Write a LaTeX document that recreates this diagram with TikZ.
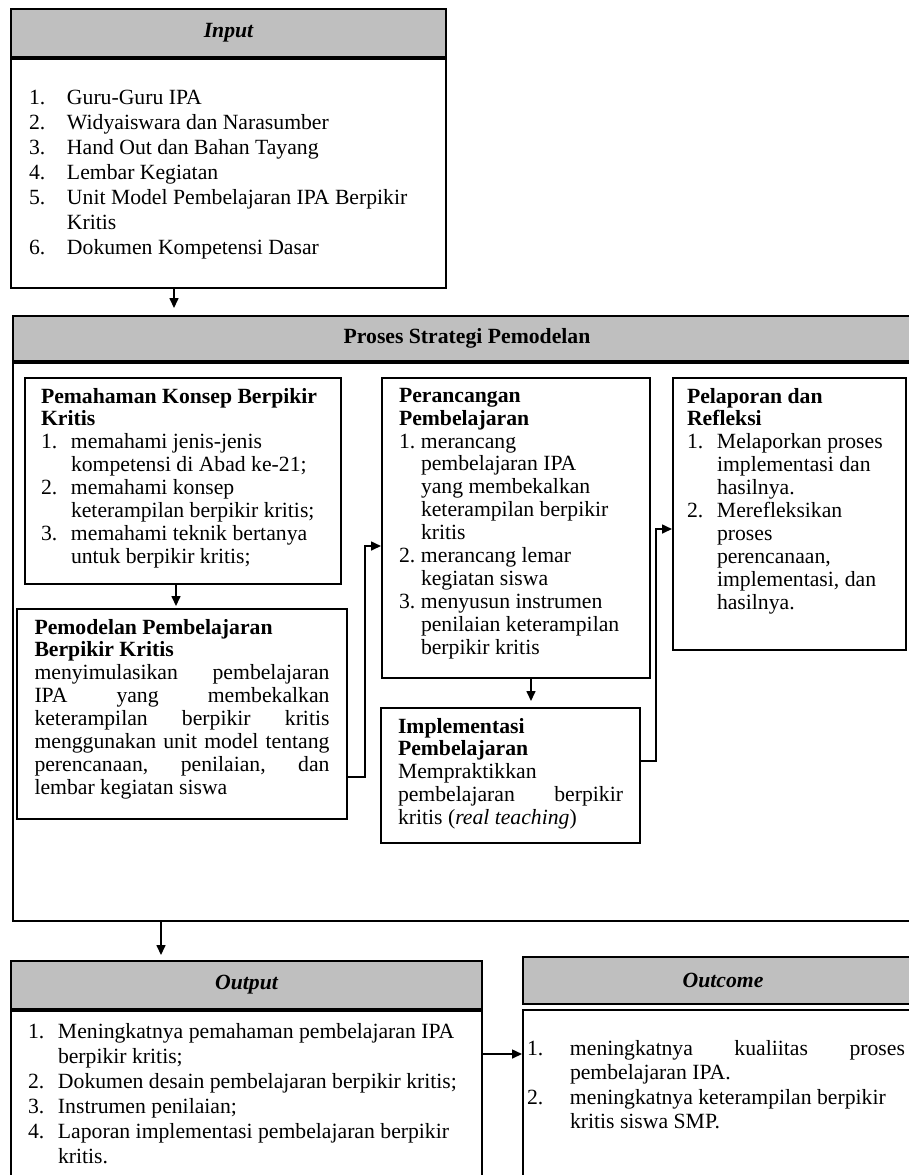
\documentclass[tikz,border=0pt]{standalone}
\usepackage{fontspec}
\setmainfont{Liberation Serif}
\usetikzlibrary{arrows.meta, positioning, calc}

\newcommand{\tightfont}{\fontsize{10.85}{11.45}\selectfont}
\newcommand{\loosefont}{\fontsize{10.85}{12.5}\selectfont}
\newcommand{\boxtext}[3]{\parbox[c][#2][t]{#1}{\pretolerance=10000\tolerance=10000\hyphenpenalty=10000\hbadness=10000 #3}}
\newcommand{\nitem}[3]{\par\hangindent=#1\hangafter=1\noindent\makebox[#1][l]{#2}#3}

\begin{document}
\begin{tikzpicture}[
		x=0.5pt, y=-0.5pt,
		>={Triangle[length=5pt,width=4.5pt]},
		headbox/.style={
				rectangle,
				draw,
				line width=1pt,
				fill=black!25,
				anchor=north west,
				inner sep=0pt,
				font=\tightfont\bfseries\itshape
			},
		listbox/.style={
				rectangle,
				draw,
				line width=1pt,
				fill=white,
				anchor=north west,
				inner xsep=8.5pt,
				inner ysep=5pt,
				font=\tightfont
			},
		prosframe/.style={
				rectangle,
				draw,
				line width=1pt,
				minimum width=454pt,
				minimum height=279pt,
				inner sep=0pt
			},
		link/.style={->, line width=0.8pt},
		]

		\useasboundingbox (0,0) rectangle (909,1175);

		% input
		\node[headbox, minimum width=217.5pt, minimum height=24pt] (inhead) at (10,8) {Input};

		\node[listbox, below=0pt of inhead, inner xsep=9pt, inner ysep=15.5pt, font=\loosefont] (inbody) {\boxtext{199.5pt}{83.5pt}{\raggedright
				\nitem{19pt}{1.}{Guru-Guru IPA}
				\nitem{19pt}{2.}{Widyaiswara dan Narasumber}
				\nitem{19pt}{3.}{Hand Out dan Bahan Tayang}
				\nitem{19pt}{4.}{Lembar Kegiatan}
				\nitem{19pt}{5.}{Unit Model Pembelajaran IPA Berpikir\newline Kritis}
				\nitem{19pt}{6.}{Dokumen Kompetensi Dasar}}};

		% proses
		\node[headbox, font=\tightfont\bfseries, minimum width=454pt, minimum height=22.5pt] (proshead) at (12,315) {Proses Strategi Pemodelan};

		\node[prosframe, below=0pt of proshead] (prosbody) {};

		\node[listbox, inner xsep=8pt] (pemahaman) at (24,377) {\boxtext{142pt}{93pt}{\raggedright
				\textbf{Pemahaman Konsep Berpikir\newline Kritis}
				\nitem{15pt}{1.}{memahami jenis-jenis\newline kompetensi di Abad ke-21;}
				\nitem{15pt}{2.}{memahami konsep\newline keterampilan berpikir kritis;}
				\nitem{15pt}{3.}{memahami teknik bertanya\newline untuk berpikir kritis;}}};

		\node[listbox, inner xsep=8.75pt] (pemodelan) at (16,608) {\boxtext{147.5pt}{95pt}{%
				{\raggedright\textbf{Pemodelan Pembelajaran\newline Berpikir Kritis}\par}
				menyimulasikan pembelajaran\linebreak IPA yang membekalkan\linebreak keterampilan berpikir kritis\linebreak menggunakan unit model tentang\linebreak perencanaan, penilaian, dan\linebreak lembar kegiatan siswa}};

		\node[listbox] (perancangan) at (381,377) {\boxtext{117pt}{140pt}{\raggedright
				\textbf{Perancangan\newline Pembelajaran}
				\nitem{11pt}{1.}{merancang\newline pembelajaran IPA\newline yang membekalkan\newline keterampilan berpikir\newline kritis}
				\nitem{11pt}{2.}{merancang lemar\newline kegiatan siswa}
				\nitem{11pt}{3.}{menyusun instrumen\newline penilaian keterampilan\newline berpikir kritis}}};

		\node[listbox] (implementasi) at (380,707) {\boxtext{112.5pt}{57.5pt}{%
				{\raggedright\textbf{Implementasi\newline Pembelajaran}\par}
				Mempraktikkan\newline pembelajaran berpikir\linebreak kritis (\textit{real teaching})}};

		\node[listbox, inner xsep=7pt] (pelaporan) at (672,377) {\boxtext{102.5pt}{126pt}{\raggedright
				\textbf{Pelaporan dan\newline Refleksi}
				\nitem{15pt}{1.}{Melaporkan proses\newline implementasi dan\newline hasilnya.}
				\nitem{15pt}{2.}{Merefleksikan\newline proses\newline perencanaan,\newline implementasi, dan\newline hasilnya.}}};

		% output and outcome
		\node[headbox, minimum width=235.5pt, minimum height=24pt] (outhead) at (10,960) {Output};

		\node[listbox, below=0pt of outhead, inner ysep=6pt, font=\loosefont] (outbody) {\boxtext{218.5pt}{88pt}{\raggedright
				\nitem{15pt}{1.}{Meningkatnya pemahaman pembelajaran IPA\newline berpikir kritis;}
				\nitem{15pt}{2.}{Dokumen desain pembelajaran berpikir kritis;}
				\nitem{15pt}{3.}{Instrumen penilaian;}
				\nitem{15pt}{4.}{Laporan implementasi pembelajaran berpikir\newline kritis.}}};

		\node[headbox, minimum width=200pt, minimum height=23.5pt] (outchead) at (522,956) {Outcome};

		\node[listbox, below=2pt of outchead.south west, anchor=north west, inner xsep=2pt, inner ysep=15pt, font=\fontsize{10.85}{12.3}\selectfont] (outcbody) {\boxtext{189pt}{70pt}{%
				\nitem{21.5pt}{1.}{meningkatnya kualiitas proses\linebreak pembelajaran IPA.}
				\nitem{21.5pt}{2.}{meningkatnya keterampilan berpikir\newline kritis siswa SMP.}}\hspace*{6pt}};

		% connectors
		\draw[link, shorten >=3.5pt] ([xshift=-27.25pt]inbody.south) -- ([xshift=-27.25pt]inbody.south |- proshead.north);

		\draw[link, shorten >=1pt] ([xshift=-3.5pt]pemahaman.south) -- ([xshift=-3.5pt]pemahaman.south |- pemodelan.north);

		\draw[link] ([yshift=21.5pt]pemodelan.south east) -- ++(17,0) |- ([yshift=-9pt]perancangan.west);

		\draw[link, shorten >=3pt] ([xshift=7.5pt]perancangan.south) -- ([xshift=7.5pt]perancangan.south |- implementasi.north);

		\draw[link] ([yshift=7.25pt]implementasi.east) -- ++(15,0) |- ([yshift=-7.5pt]pelaporan.west);

		\draw[link, shorten >=2.5pt] ([xshift=-153pt]prosbody.south) -- ([xshift=-153pt]prosbody.south |- outhead.north);

		\draw[link] ([yshift=-22pt]outbody.north east) -- ([yshift=-22pt]outbody.north east -| outcbody.west);

	\end{tikzpicture}
\end{document}
